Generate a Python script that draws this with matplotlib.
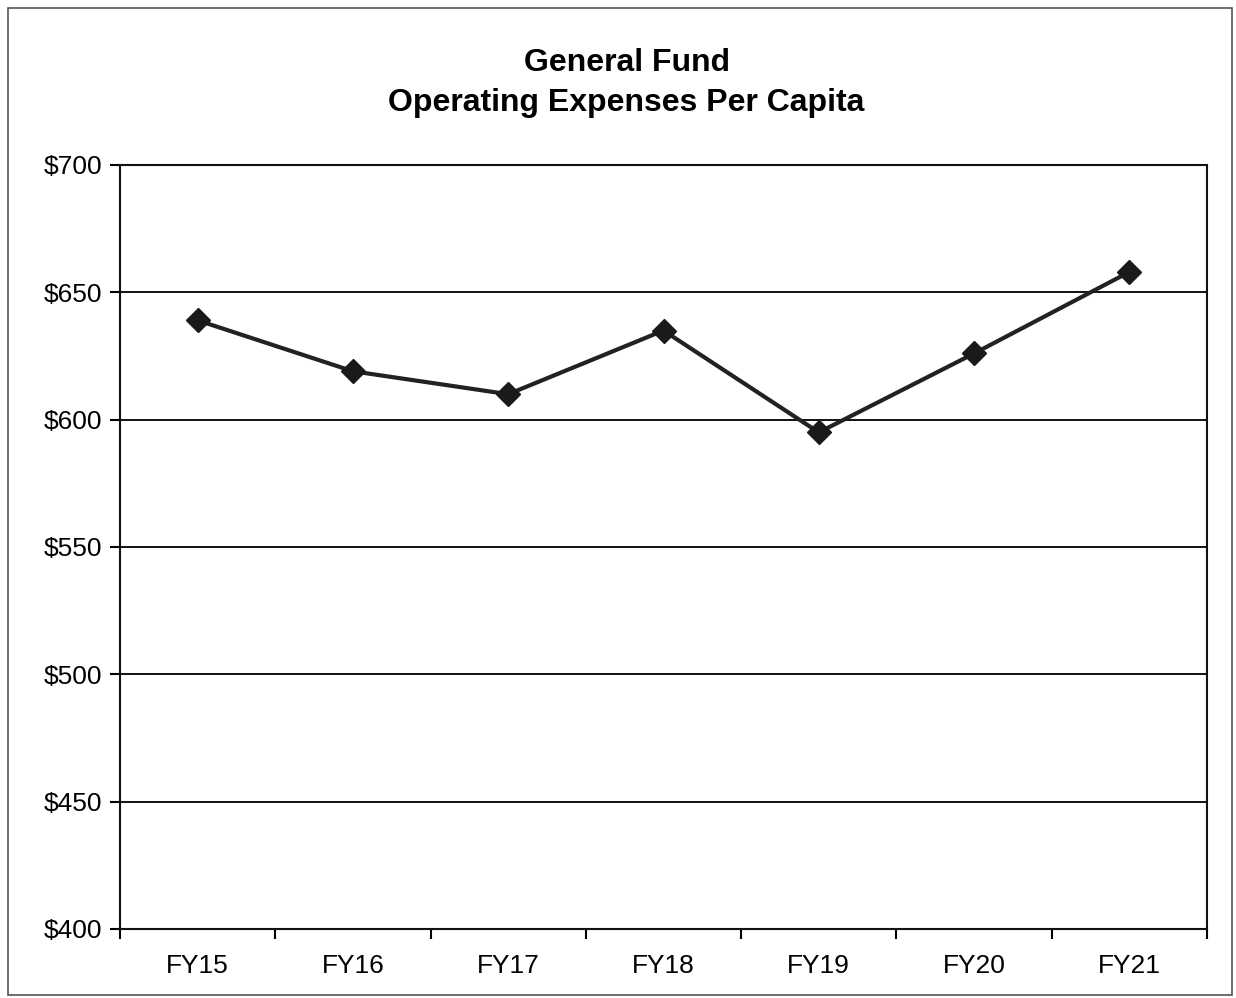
import matplotlib
matplotlib.use("Agg")
import matplotlib.pyplot as plt
from matplotlib.patches import Rectangle

plt.rcParams['font.family'] = ['Liberation Sans', 'DejaVu Sans']

categories = ["FY15", "FY16", "FY17", "FY18", "FY19", "FY20", "FY21"]
values = [639, 619, 610, 635, 595, 626, 658]
yticks = [400, 450, 500, 550, 600, 650, 700]
ytick_labels = ["$400", "$450", "$500", "$550", "$600", "$650", "$700"]

fig = plt.figure(figsize=(12.36, 9.98), dpi=100)
fig.patches.append(Rectangle((8/1236, 3/998), 1224/1236, 987/998, transform=fig.transFigure,
                             fill=False, edgecolor="#555555", linewidth=1.2))

ax = fig.add_axes([120/1236, 1 - 929/998, (1207 - 120)/1236, (929 - 165)/998])
x = list(range(len(categories)))
ax.plot(x, values, color="#222222", linewidth=3, marker="D", markersize=12,
        markerfacecolor="#1a1a1a", markeredgecolor="#1a1a1a")

ax.set_xlim(-0.5, len(categories) - 0.5)
ax.set_ylim(400, 700)
ax.set_yticks(yticks)
ax.set_yticklabels(ytick_labels, fontsize=19)
ax.yaxis.grid(True, color="#111111", linewidth=1.4)
ax.set_axisbelow(True)

ax.set_xticks(x)
ax.set_xticklabels(categories, fontsize=19)
ax.tick_params(axis="x", which="major", length=0, pad=18)
ax.set_xticks([i + 0.5 for i in range(-1, len(categories))], minor=True)
ax.tick_params(axis="x", which="minor", length=7, width=1.5, direction="out")
ax.tick_params(axis="y", length=7, width=1.5, direction="out", pad=6)

for s in ax.spines.values():
    s.set_linewidth(1.5)
    s.set_color("#111111")

fig.text(0.507, 1 - 63/998, "General Fund", ha="center", va="center",
         fontsize=23, fontweight="bold")
fig.text(0.507, 1 - 103/998, "Operating Expenses Per Capita", ha="center", va="center",
         fontsize=23, fontweight="bold")

fig.savefig("out.png", dpi=100)
